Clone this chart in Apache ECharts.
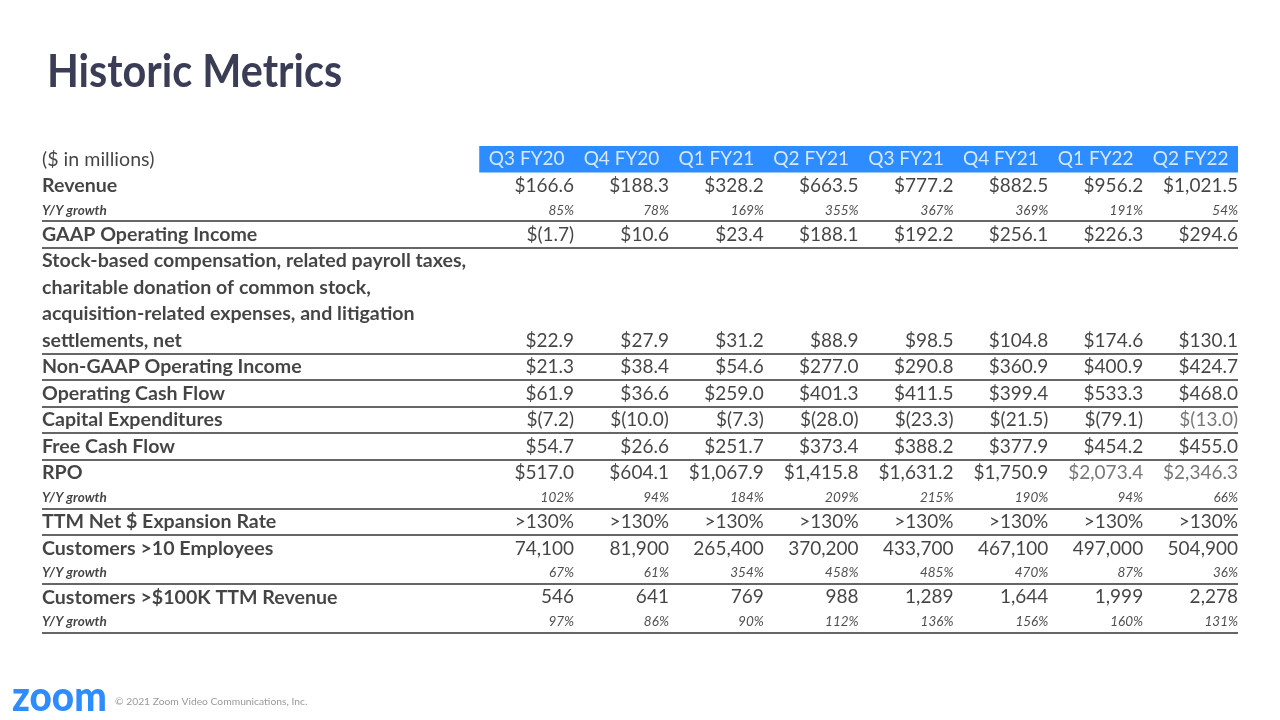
<!DOCTYPE html>
<html><head><meta charset="utf-8">
<script src="https://cdn.jsdelivr.net/npm/echarts@6/dist/echarts.min.js"></script>
<style>html,body{margin:0;padding:0;background:#fff}#c{width:1280px;height:720px}</style>
</head><body><div id="c"></div>
<script>
// ---------- data ----------
const titleText = 'Historic Metrics';
const unitsNote = '($ in millions)';
const quarters = ['Q3 FY20','Q4 FY20','Q1 FY21','Q2 FY21','Q3 FY21','Q4 FY21','Q1 FY22','Q2 FY22'];
const revenue = [166.6, 188.3, 328.2, 663.5, 777.2, 882.5, 956.2, 1021.5];
const revenueGrowth = [85, 78, 169, 355, 367, 369, 191, 54];
const gaapOpIncome = [-1.7, 10.6, 23.4, 188.1, 192.2, 256.1, 226.3, 294.6];
const sbcLabelLines = ['Stock-based compensation, related payroll taxes,', 'charitable donation of common stock,', 'acquisition-related expenses, and litigation', 'settlements, net'];
const sbcAdjustments = [22.9, 27.9, 31.2, 88.9, 98.5, 104.8, 174.6, 130.1];
const nonGaapOpIncome = [21.3, 38.4, 54.6, 277.0, 290.8, 360.9, 400.9, 424.7];
const operatingCashFlow = [61.9, 36.6, 259.0, 401.3, 411.5, 399.4, 533.3, 468.0];
const capitalExpenditures = [-7.2, -10.0, -7.3, -28.0, -23.3, -21.5, -79.1, -13.0];
const freeCashFlow = [54.7, 26.6, 251.7, 373.4, 388.2, 377.9, 454.2, 455.0];
const rpo = [517.0, 604.1, 1067.9, 1415.8, 1631.2, 1750.9, 2073.4, 2346.3];
const rpoGrowth = [102, 94, 184, 209, 215, 190, 94, 66];
const ttmNetExpansion = ['>130%','>130%','>130%','>130%','>130%','>130%','>130%','>130%'];
const customers10 = [74100, 81900, 265400, 370200, 433700, 467100, 497000, 504900];
const customers10Growth = [67, 61, 354, 458, 485, 470, 87, 36];
const customers100k = [546, 641, 769, 988, 1289, 1644, 1999, 2278];
const customers100kGrowth = [97, 86, 90, 112, 136, 156, 160, 131];
const footerLogo = 'zoom';
const footerNote = '\u00a9 2021 Zoom Video Communications, Inc.';

// ---------- formatters ----------
const num1 = v => v.toLocaleString('en-US', {minimumFractionDigits: 1, maximumFractionDigits: 1});
const money = v => v < 0 ? '$(' + num1(-v) + ')' : '$' + num1(v);
const pct = v => v + '%';
const count = v => v.toLocaleString('en-US');
const asIs = v => String(v);

// ---------- table structure ----------
const rows = [
  {kind: 'head', label: unitsNote, values: quarters, fmt: asIs},
  {kind: 'main', label: 'Revenue', values: revenue, fmt: money},
  {kind: 'sub', label: 'Y/Y growth', values: revenueGrowth, fmt: pct},
  {kind: 'main', label: 'GAAP Operating Income', values: gaapOpIncome, fmt: money, rule: true},
  {kind: 'main', label: sbcLabelLines[0], values: null, rule: true},
  {kind: 'main', label: sbcLabelLines[1], values: null},
  {kind: 'main', label: sbcLabelLines[2], values: null},
  {kind: 'main', label: sbcLabelLines[3], values: sbcAdjustments, fmt: money},
  {kind: 'main', label: 'Non-GAAP Operating Income', values: nonGaapOpIncome, fmt: money, rule: true},
  {kind: 'main', label: 'Operating Cash Flow', values: operatingCashFlow, fmt: money, rule: true},
  {kind: 'main', label: 'Capital Expenditures', values: capitalExpenditures, fmt: money, rule: true, muted: [7]},
  {kind: 'main', label: 'Free Cash Flow', values: freeCashFlow, fmt: money, rule: true},
  {kind: 'main', label: 'RPO', values: rpo, fmt: money, rule: true, muted: [6, 7]},
  {kind: 'sub', label: 'Y/Y growth', values: rpoGrowth, fmt: pct},
  {kind: 'main', label: 'TTM Net $ Expansion Rate', values: ttmNetExpansion, fmt: asIs, rule: true},
  {kind: 'main', label: 'Customers >10 Employees', values: customers10, fmt: count, rule: true},
  {kind: 'sub', label: 'Y/Y growth', values: customers10Growth, fmt: pct},
  {kind: 'main', label: 'Customers >$100K TTM Revenue', values: customers100k, fmt: count, rule: true},
  {kind: 'sub', label: 'Y/Y growth', values: customers100kGrowth, fmt: pct}
];

// ---------- layout (row heights in axis units) ----------
const rowWeight = {head: 1, main: 1, sub: 0.845};
let acc = 0;
const rowTop = [], rowMid = [];
rows.forEach(r => { rowTop.push(acc); rowMid.push(acc + rowWeight[r.kind] / 2); acc += rowWeight[r.kind]; });
const yTotal = acc;
const xLabel = -4.61;

const FONT = 'Lato';
const INK = '#151515';
const styles = {
  headLabel: {fontFamily: FONT, fontSize: 19.6, fontWeight: 'normal', color: INK},
  mainLabel: {fontFamily: FONT, fontSize: 19.6, fontWeight: 'bold', color: INK},
  subLabel: {fontFamily: FONT, fontSize: 13.5, fontWeight: 'bold', fontStyle: 'italic', color: INK},
  headVal: {fontFamily: FONT, fontSize: 19, fontWeight: 'normal', color: '#ffffff'},
  mainVal: {fontFamily: FONT, fontSize: 19, fontWeight: 'normal', color: INK},
  subVal: {fontFamily: FONT, fontSize: 13.5, fontWeight: 'normal', fontStyle: 'italic', color: '#222222'}
};

const cells = [];
rows.forEach((r, i) => {
  const y = rowMid[i];
  cells.push({name: r.label, value: [xLabel, y],
    label: Object.assign({position: 'right', distance: 0}, styles[r.kind + 'Label'])});
  if (r.values) {
    r.values.forEach((v, k) => {
      const st = Object.assign({}, styles[r.kind + 'Val']);
      if (r.muted && r.muted.indexOf(k) >= 0) st.color = '#555555';
      if (r.kind === 'head') {
        cells.push({name: r.fmt(v), value: [k + 0.5, y], label: Object.assign({position: 'inside'}, st)});
      } else {
        cells.push({name: r.fmt(v), value: [k + 1, y], label: Object.assign({position: 'left', distance: 0}, st)});
      }
    });
  }
});

const rules = [];
rows.forEach((r, i) => { if (r.rule) rules.push({yAxis: rowTop[i]}); });
rules.push({yAxis: yTotal});

const chart = echarts.init(document.getElementById('c'), null, {renderer: 'canvas'});
chart.setOption({
  animation: false,
  backgroundColor: '#ffffff',
  grid: {left: 42, right: 42, top: 146, bottom: 87},
  xAxis: {type: 'value', min: xLabel, max: quarters.length, show: false},
  yAxis: {type: 'value', inverse: true, min: 0, max: yTotal, show: false},
  graphic: [
    {type: 'text', x: 47, y: 72, scaleX: 0.9, style: {text: titleText, font: 'bold 46px Lato', fill: '#3b3d56', verticalAlign: 'middle'}},
    {type: 'text', x: 12, y: 697, scaleX: 0.92, style: {text: footerLogo, font: '900 42px Lato', fill: '#2D8CFF', verticalAlign: 'middle'}},
    {type: 'text', x: 115, y: 702, style: {text: footerNote, font: '10.3px Lato', fill: '#9a9a9a', verticalAlign: 'middle'}}
  ],
  series: [{
    type: 'scatter',
    symbolSize: 0,
    silent: true,
    clip: false,
    data: cells,
    label: {show: true, formatter: '{b}'},
    markArea: {silent: true, itemStyle: {color: '#2D8CFF'},
      data: [[{xAxis: 0, yAxis: rowTop[0]}, {xAxis: quarters.length, yAxis: rowTop[0] + rowWeight.head}]]},
    markLine: {silent: true, symbol: ['none', 'none'], label: {show: false},
      lineStyle: {color: '#333333', width: 1.5, type: 'solid'}, data: rules}
  }]
});
</script></body></html>
